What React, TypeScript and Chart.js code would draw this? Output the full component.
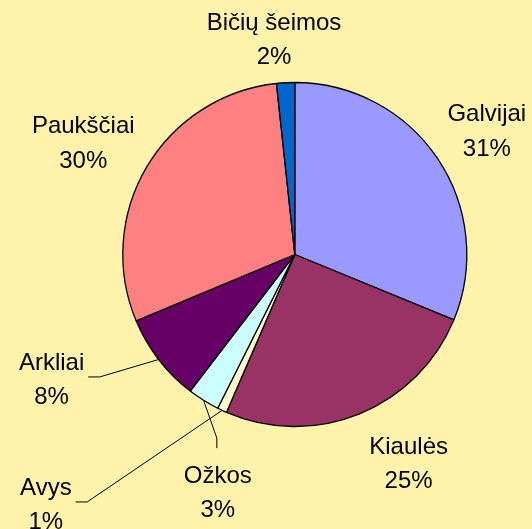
import React, { useEffect, useRef } from "react";
import { Chart, registerables } from "chart.js";

Chart.register(...registerables);

const categories = ["Galvijai", "Kiaulės", "Avys", "Ožkos", "Arkliai", "Paukščiai", "Bičių šeimos"];
const values = [31.2, 25.3, 0.9, 3.0, 8.3, 29.6, 1.7];
const colors = ["#9999FF", "#993366", "#FFFFCC", "#CCFFFF", "#660066", "#FF8080", "#0066CC"];

// label placement: polar angle (deg, clockwise from top) and distance (in pie radii)
const labelAngles = [57, 151.3, 225, 198, 243, 298, 354.5];
const labelDistances = [1.331, 1.378, 2.047, 1.448, 1.587, 1.393, 1.262];
const leaderModes: (string | null)[] = [null, null, "side", "top", "side", null, null];

const BG = "#FFF2AA";
const FONT = '24px "Liberation Sans", Arial, sans-serif';
const LINE_GAP = 34.5;

const labelPlugin = {
  id: "pieLabels",
  afterDatasetsDraw(chart: any) {
    const ctx = chart.ctx as CanvasRenderingContext2D;
    const meta = chart.getDatasetMeta(0);
    const total = values.reduce((a, b) => a + b, 0);
    ctx.save();
    ctx.font = FONT;
    ctx.fillStyle = "#000";
    ctx.strokeStyle = "#000";
    ctx.lineWidth = 1;
    meta.data.forEach((arc: any, i: number) => {
      const { x, y, outerRadius, startAngle, endAngle } = arc.getProps(
        ["x", "y", "outerRadius", "startAngle", "endAngle"],
        true
      );
      const a = (labelAngles[i] * Math.PI) / 180;
      const d = labelDistances[i] * outerRadius;
      const lx = x + Math.sin(a) * d;
      const ly = y - Math.cos(a) * d;
      const pct = Math.round((values[i] / total) * 100) + "%";
      const l1 = categories[i];
      ctx.textAlign = "center";
      ctx.textBaseline = "alphabetic";
      ctx.fillText(l1, lx, ly - LINE_GAP / 2 + 8.6);
      ctx.fillText(pct, lx, ly + LINE_GAP / 2 + 8.6);
      const mode = leaderModes[i];
      if (mode) {
        const mid = (startAngle + endAngle) / 2;
        const sx = x + Math.cos(mid) * outerRadius;
        const sy = y + Math.sin(mid) * outerRadius;
        const w = Math.max(ctx.measureText(l1).width, ctx.measureText(pct).width);
        let ex: number, ey: number, bx: number, by: number;
        if (mode === "side") {
          const dir = lx < x ? 1 : -1;
          ex = lx + dir * (w / 2 + 4);
          ey = ly - 1.5;
          bx = ex + dir * 11.5;
          by = ey;
        } else {
          ex = lx - 1;
          ey = ly - LINE_GAP / 2 - 26;
          bx = ex;
          by = ey - 10;
        }
        ctx.beginPath();
        ctx.moveTo(sx, sy);
        ctx.lineTo(bx, by);
        ctx.lineTo(ex, ey);
        ctx.stroke();
      }
    });
    ctx.restore();
  },
};

export default function App() {
  const ref = useRef<HTMLCanvasElement>(null);
  useEffect(() => {
    document.body.style.margin = "0";
    const chart = new Chart(ref.current as HTMLCanvasElement, {
      type: "pie",
      data: {
        labels: categories,
        datasets: [
          {
            data: values,
            backgroundColor: colors,
            borderColor: "#000000",
            borderWidth: 1.3,
            radius: 172,
          } as any,
        ],
      },
      options: {
        animation: false,
        responsive: true,
        maintainAspectRatio: false,
        layout: { padding: { left: 100, right: 42.4, top: 60, bottom: 80 } },
        plugins: { legend: { display: false }, tooltip: { enabled: false } },
      },
      plugins: [labelPlugin],
    });
    return () => chart.destroy();
  }, []);
  return (
    <div style={{ position: "absolute", left: 0, top: 0, width: 532, height: 529, background: BG }}>
      <canvas ref={ref} />
    </div>
  );
}
